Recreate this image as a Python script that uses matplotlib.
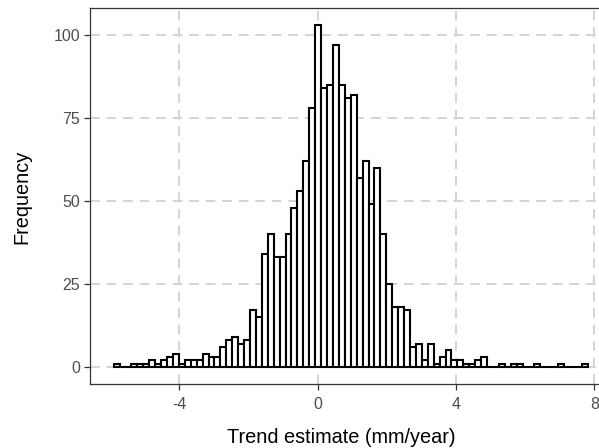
import numpy as np
import matplotlib
matplotlib.use("Agg")
import matplotlib.pyplot as plt

# histogram counts, one per bin, left to right
counts = [1, 0, 0, 1, 1, 1, 2, 1, 2, 3, 4, 1, 2, 2, 2, 4, 3, 3, 6, 8,
          9, 7, 8, 17, 15, 34, 40, 33, 33, 40, 48, 53, 62, 78, 103, 84, 85, 97, 85, 81,
          82, 57, 62, 49, 60, 40, 25, 18, 18, 17, 6, 7, 2, 7, 1, 3, 5, 2, 2, 1,
          1, 2, 3, 0, 0, 1, 0, 1, 1, 0, 0, 1, 0, 0, 0, 1, 0, 0, 0, 1]
bin_start = -5.81      # centre of the first bin
bin_width = 0.1713
x_ticks = [-4, 0, 4, 8]
y_ticks = [0, 25, 50, 75, 100]

plt.rcParams['font.family'] = ['Liberation Sans', 'DejaVu Sans']
plt.rcParams['axes.unicode_minus'] = False

centers = bin_start + bin_width * np.arange(len(counts))

fig = plt.figure(figsize=(5.99, 4.48), dpi=100)
# panel runs past the right edge of the figure
ax = fig.add_axes([90 / 599, 64 / 448, 521.5 / 599, 376 / 448])

ax.bar(centers, counts, width=bin_width, color='white', edgecolor='black',
       linewidth=1.5, zorder=3)

lo = centers[0] - bin_width / 2
hi = centers[-1] + bin_width / 2
pad = 0.05 * (hi - lo)
ax.set_xlim(lo - pad, hi + pad)
ax.set_ylim(-0.05 * max(counts), 1.05 * max(counts))

ax.set_xticks(x_ticks)
ax.set_yticks(y_ticks)
ax.grid(True, color='#d4d4d4', linestyle=(0, (5, 3.5)), linewidth=1.4, zorder=0)
ax.set_axisbelow(True)

for s in ax.spines.values():
    s.set_color('#333333')
    s.set_linewidth(0.9)

ax.tick_params(axis='both', colors='#333333', length=4, width=0.9,
               labelsize=11.5, labelcolor='#4d4d4d', pad=3)
ax.tick_params(axis='x', pad=5)

fig.text(22 / 599, 1 - 197 / 448, 'Frequency', rotation=90, fontsize=14.3,
         ha='center', va='center', color='black')
fig.text(341 / 599, 1 - 437 / 448, 'Trend estimate (mm/year)', fontsize=14.3,
         ha='center', va='center', color='black')

fig.savefig('out.png', dpi=100)
